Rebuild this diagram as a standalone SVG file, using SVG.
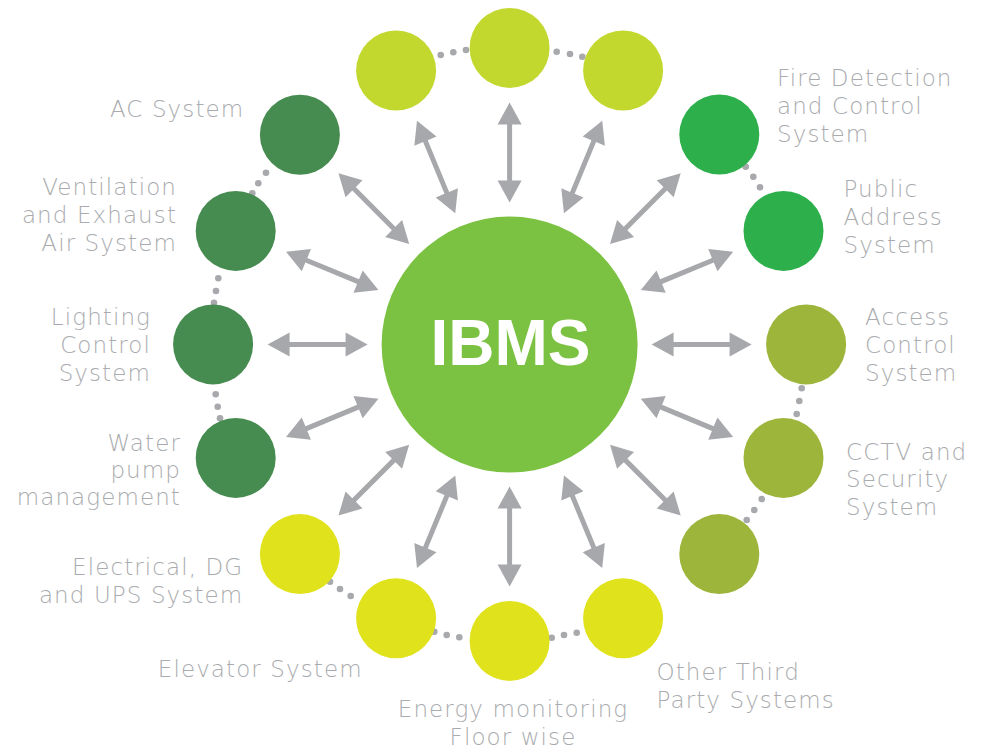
<svg xmlns="http://www.w3.org/2000/svg" xmlns:xlink="http://www.w3.org/1999/xlink" width="989" height="748" viewBox="0 0 989 748">
  <style>
    .lbl { font-family: "DejaVu Sans", "Liberation Sans", sans-serif; font-size: 23px; font-weight: 300; letter-spacing: 1.1px; fill: #a9abae; }
    .end { text-anchor: end; }
    .mid { text-anchor: middle; }
    .dot { fill: #a7a9ac; }
    .arrow { fill: #a7a8ab; }
    .c-lime { fill: #c3d82e; }
    .c-green { fill: #2db04b; }
    .c-olive { fill: #9db53b; }
    .c-yellow { fill: #e0e21b; }
    .c-dark { fill: #468b4f; }
    .hub { fill: #7cc242; }
    .hub-text { font-family: "Liberation Sans", Arial, sans-serif; font-size: 64px; font-weight: bold; fill: #ffffff; text-anchor: middle; }
  </style>
  <defs>
    <!-- double-headed arrow laid along +x, rotated about the hub centre -->
    <polygon id="dbl-arrow" points="142,0 164,-12 164,-2.5 220,-2.5 220,-12 242,0 220,12 220,2.5 164,2.5 164,12"/>
  </defs>

  <rect width="989" height="748" fill="#ffffff"/>

  <!-- dotted links between neighbouring satellites -->
  <g id="dotted-links" class="dot">
    <circle cx="440.7" cy="55" r="3.3"/><circle cx="453.3" cy="52.3" r="3.3"/><circle cx="466" cy="50" r="3.3"/>
    <circle cx="556.7" cy="51.7" r="3.3"/><circle cx="570" cy="54" r="3.3"/><circle cx="582.3" cy="56.7" r="3.3"/>
    <circle cx="745.7" cy="166.7" r="3.3"/><circle cx="753.3" cy="176.7" r="3.3"/><circle cx="760" cy="187.3" r="3.3"/>
    <circle cx="801.7" cy="388.3" r="3.3"/><circle cx="799.3" cy="401" r="3.3"/><circle cx="796.7" cy="414" r="3.3"/>
    <circle cx="761.7" cy="499" r="3.3"/><circle cx="754.3" cy="510" r="3.3"/><circle cx="746.7" cy="520" r="3.3"/>
    <circle cx="551.7" cy="637.7" r="3.3"/><circle cx="564" cy="635" r="3.3"/><circle cx="576.7" cy="632.7" r="3.3"/>
    <circle cx="434.3" cy="631.7" r="3.3"/><circle cx="446.7" cy="635" r="3.3"/><circle cx="459.3" cy="637.3" r="3.3"/>
    <circle cx="330" cy="581.7" r="3.3"/><circle cx="340" cy="589" r="3.3"/><circle cx="350.7" cy="596" r="3.3"/>
    <circle cx="215.7" cy="394.3" r="3.3"/><circle cx="217.7" cy="406.7" r="3.3"/><circle cx="220" cy="418.3" r="3.3"/>
    <circle cx="218.3" cy="278.3" r="3.3"/><circle cx="216" cy="291" r="3.3"/><circle cx="214" cy="302.7" r="3.3"/>
    <circle cx="266" cy="172.7" r="3.3"/><circle cx="258.3" cy="183.3" r="3.3"/><circle cx="252.3" cy="193.3" r="3.3"/>
  </g>

  <!-- connectors: hub to each satellite -->
  <g id="connectors" class="arrow">
    <use xlink:href="#dbl-arrow" href="#dbl-arrow" transform="translate(509.6 344.4) rotate(-90)"/>
    <use xlink:href="#dbl-arrow" href="#dbl-arrow" transform="translate(509.6 344.4) rotate(-67.5)"/>
    <use xlink:href="#dbl-arrow" href="#dbl-arrow" transform="translate(509.6 344.4) rotate(-45)"/>
    <use xlink:href="#dbl-arrow" href="#dbl-arrow" transform="translate(509.6 344.4) rotate(-22.5)"/>
    <use xlink:href="#dbl-arrow" href="#dbl-arrow" transform="translate(509.6 344.4) rotate(0)"/>
    <use xlink:href="#dbl-arrow" href="#dbl-arrow" transform="translate(509.6 344.4) rotate(22.5)"/>
    <use xlink:href="#dbl-arrow" href="#dbl-arrow" transform="translate(509.6 344.4) rotate(45)"/>
    <use xlink:href="#dbl-arrow" href="#dbl-arrow" transform="translate(509.6 344.4) rotate(67.5)"/>
    <use xlink:href="#dbl-arrow" href="#dbl-arrow" transform="translate(509.6 344.4) rotate(90)"/>
    <use xlink:href="#dbl-arrow" href="#dbl-arrow" transform="translate(509.6 344.4) rotate(112.5)"/>
    <use xlink:href="#dbl-arrow" href="#dbl-arrow" transform="translate(509.6 344.4) rotate(135)"/>
    <use xlink:href="#dbl-arrow" href="#dbl-arrow" transform="translate(509.6 344.4) rotate(157.5)"/>
    <use xlink:href="#dbl-arrow" href="#dbl-arrow" transform="translate(509.6 344.4) rotate(180)"/>
    <use xlink:href="#dbl-arrow" href="#dbl-arrow" transform="translate(509.6 344.4) rotate(202.5)"/>
    <use xlink:href="#dbl-arrow" href="#dbl-arrow" transform="translate(509.6 344.4) rotate(225)"/>
    <use xlink:href="#dbl-arrow" href="#dbl-arrow" transform="translate(509.6 344.4) rotate(247.5)"/>
  </g>

  <!-- hub -->
  <g id="ibms">
    <circle class="hub" cx="509.6" cy="344.6" r="128"/>
    <text class="hub-text" x="510.5" y="365">IBMS</text>
  </g>

  <!-- satellites, clockwise from the top -->
  <g id="top-center"><circle class="c-lime" cx="509.6" cy="47.9" r="40"/></g>
  <g id="top-right"><circle class="c-lime" cx="623.1" cy="70.5" r="40"/></g>
  <g id="fire-detection">
    <circle class="c-green" cx="719.3" cy="134.5" r="40"/>
    <text class="lbl" x="777" y="86">Fire Detection</text>
    <text class="lbl" x="777" y="114">and Control</text>
    <text class="lbl" x="777" y="142">System</text>
  </g>
  <g id="public-address">
    <circle class="c-green" cx="783.5" cy="230.9" r="40"/>
    <text class="lbl" x="843.5" y="197">Public</text>
    <text class="lbl" x="843.5" y="225">Address</text>
    <text class="lbl" x="843.5" y="253">System</text>
  </g>
  <g id="access-control">
    <circle class="c-olive" cx="806.1" cy="344.4" r="40"/>
    <text class="lbl" x="865" y="325">Access</text>
    <text class="lbl" x="865" y="353">Control</text>
    <text class="lbl" x="865" y="381">System</text>
  </g>
  <g id="cctv">
    <circle class="c-olive" cx="783.5" cy="457.9" r="40"/>
    <text class="lbl" x="846" y="459.5">CCTV and</text>
    <text class="lbl" x="846" y="487">Security</text>
    <text class="lbl" x="846" y="514.5">System</text>
  </g>
  <g id="bottom-right"><circle class="c-olive" cx="719.3" cy="554.1" r="40"/></g>
  <g id="other-third-party">
    <circle class="c-yellow" cx="623.1" cy="618.3" r="40"/>
    <text class="lbl" x="656.5" y="680">Other Third</text>
    <text class="lbl" x="656.5" y="708">Party Systems</text>
  </g>
  <g id="energy-monitoring">
    <circle class="c-yellow" cx="509.6" cy="640.9" r="40"/>
    <text class="lbl mid" x="513" y="716.5">Energy monitoring</text>
    <text class="lbl mid" x="513" y="744.5">Floor wise</text>
  </g>
  <g id="elevator">
    <circle class="c-yellow" cx="396.1" cy="618.3" r="40"/>
    <text class="lbl end" x="362.7" y="676.7">Elevator System</text>
  </g>
  <g id="electrical">
    <circle class="c-yellow" cx="299.9" cy="554.1" r="40"/>
    <text class="lbl end" x="243.3" y="575">Electrical, DG</text>
    <text class="lbl end" x="243.3" y="602.7">and UPS System</text>
  </g>
  <g id="water-pump">
    <circle class="c-dark" cx="235.7" cy="457.9" r="40"/>
    <text class="lbl end" x="181" y="450.7">Water</text>
    <text class="lbl end" x="181" y="478.3">pump</text>
    <text class="lbl end" x="181" y="505">management</text>
  </g>
  <g id="lighting">
    <circle class="c-dark" cx="213.1" cy="344.4" r="40"/>
    <text class="lbl end" x="151" y="325">Lighting</text>
    <text class="lbl end" x="151" y="353.3">Control</text>
    <text class="lbl end" x="151" y="380.7">System</text>
  </g>
  <g id="ventilation">
    <circle class="c-dark" cx="235.7" cy="230.9" r="40"/>
    <text class="lbl end" x="177" y="195">Ventilation</text>
    <text class="lbl end" x="177" y="222.7">and Exhaust</text>
    <text class="lbl end" x="177" y="250.7">Air System</text>
  </g>
  <g id="ac-system">
    <circle class="c-dark" cx="299.9" cy="134.7" r="40"/>
    <text class="lbl end" x="244.3" y="116.7">AC System</text>
  </g>
  <g id="top-left"><circle class="c-lime" cx="396.1" cy="70.5" r="40"/></g>
</svg>
